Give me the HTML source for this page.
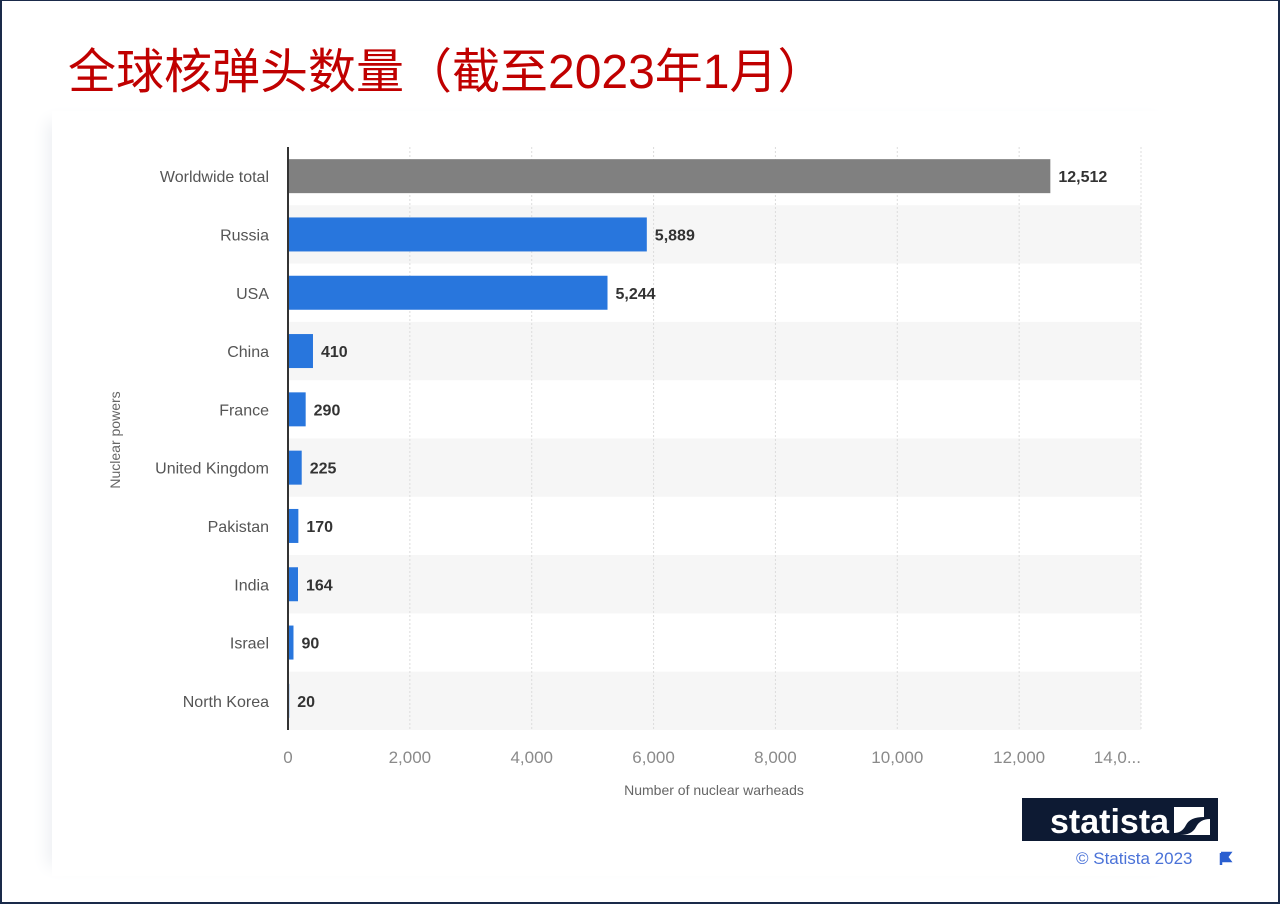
<!DOCTYPE html>
<html><head><meta charset="utf-8"><style>
body{margin:0;background:#fff;}
#frame{position:relative;width:1276px;height:901px;border:2px solid #1a2a4a;border-top-width:1px;background:#fff;overflow:hidden;font-family:"Liberation Sans","DejaVu Sans",sans-serif;}
#title{position:absolute;left:66px;top:31px;font-size:48px;color:#c00000;font-family:"Liberation Sans","Noto Sans CJK SC",sans-serif;white-space:nowrap;}
#panel{position:absolute;left:50px;top:110px;width:1130px;height:765px;background:#fff;box-shadow:-14px 0 16px -10px #eceef2;}
</style></head><body>
<div id="frame">
<div id="title">全球核弹头数量（截至2023年1月）</div>
<div id="panel"></div>
<svg id="chart" width="1276" height="901" style="position:absolute;left:0;top:0"></svg>
</div>
<script>
const categories=["Worldwide total","Russia","USA","China","France","United Kingdom","Pakistan","India","Israel","North Korea"];
const values=[12512,5889,5244,410,290,225,170,164,90,20];
const valueLabels=["12,512","5,889","5,244","410","290","225","170","164","90","20"];
const ticks=[0,2000,4000,6000,8000,10000,12000,14000];
const tickLabels=["0","2,000","4,000","6,000","8,000","10,000","12,000","14,0..."];
const NS="http://www.w3.org/2000/svg";
const svg=document.getElementById('chart');
const x0=286,xMax=14000,xPx=853,plotTop=146,rowH=58.3;
const xs=v=>x0+v/xMax*xPx;
const yc=i=>plotTop+rowH*i+rowH/2;
function mk(t,a,txt){const e=document.createElementNS(NS,t);for(const k in a)e.setAttribute(k,a[k]);if(txt!==undefined)e.textContent=txt;svg.appendChild(e);return e;}
categories.forEach((c,i)=>{if(i%2===1){const b=mk('rect',{x:x0,y:plotTop+rowH*i,width:xPx,height:rowH,fill:'#f6f6f6'});

}});
ticks.forEach((t,i)=>{if(i>0){const g=mk('line',{x1:xs(t),x2:xs(t),y1:plotTop,y2:plotTop+rowH*categories.length,stroke:'#dcdcdc','stroke-dasharray':'2,2'});

}
const last=i===ticks.length-1;
const l=mk('text',{x:last?xs(t):xs(t),y:762,'text-anchor':last?'end':'middle','font-size':'17',fill:'#8a8a8a'},tickLabels[i]);

});
categories.forEach((c,i)=>{const y=yc(i);
const r=mk('rect',{x:x0,y:y-17,width:xs(values[i])-x0,height:34,fill:i===0?'#808080':'#2876dd'});


const v=mk('text',{x:xs(values[i])+8,y:y+6,'font-size':'16','font-weight':'bold',fill:'#333'},valueLabels[i]);


const cl=mk('text',{x:267,y:y+6,'text-anchor':'end','font-size':'16',fill:'#555'},c);

});
const ax=mk('line',{x1:x0,x2:x0,y1:plotTop,y2:plotTop+rowH*categories.length,stroke:'#333','stroke-width':'2'});


const xt=mk('text',{x:712,y:794,'text-anchor':'middle','font-size':'14',fill:'#666'},'Number of nuclear warheads');


const yt=mk('text',{x:0,y:0,'text-anchor':'middle','font-size':'14',fill:'#666',transform:'translate(118,439) rotate(-90)'},'Nuclear powers');


const logo=mk('rect',{x:1020,y:797,width:196,height:43,fill:'#0d1a33'});


const lt=mk('text',{x:1048,y:832,'font-size':'34','font-weight':'bold',fill:'#fff'},'statista');


const ic=mk('path',{d:'M1172 806 H1202 V816 Q1188 816 1184 824 Q1180 832 1172 832 Z M1178 834 Q1190 834 1194 826 Q1198 818 1208 818 V834 Z',fill:'#fff'});


const cp=mk('text',{x:1074,y:863,'font-size':'17',fill:'#4a72d8'},'© Statista 2023');


const fl=mk('path',{d:'M1219 852 V864 M1219 852 H1228 L1225 856 L1228 860 H1219',stroke:'#2a5fd0','stroke-width':'2.5',fill:'#2a5fd0'});


</script>
</body></html>
